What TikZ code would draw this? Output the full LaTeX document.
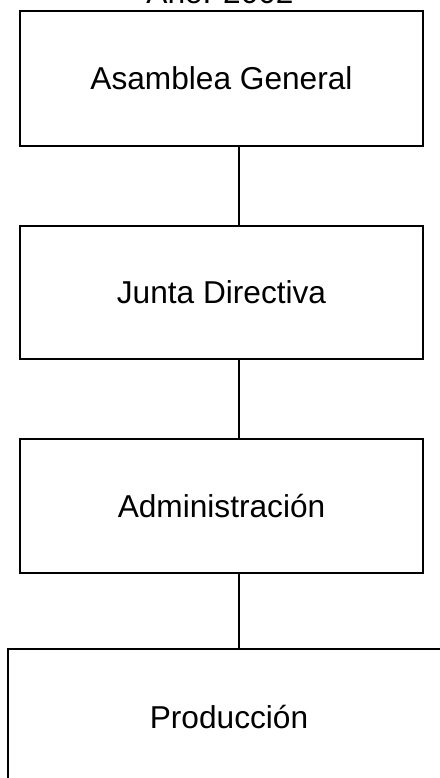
\documentclass[tikz,border=0pt]{standalone}
\usepackage{fontspec}
\setmainfont{Liberation Sans}
\begin{document}
\begin{tikzpicture}[x=0.025cm,y=-0.025cm,line width=1.4pt,
    caja/.style={draw,rectangle,minimum width=10.075cm,font=\fontsize{22.5}{27}\selectfont}]
      \useasboundingbox (0,0) rectangle (440,778);
      \draw
        (220,3) node[anchor=base,font=\fontsize{22.5}{27}\selectfont] (anio){Año: 2002}
        (221.5,78.5) node[caja,minimum height=3.375cm] (asamblea){Asamblea General}
        (221.5,292.5) node[caja,minimum height=3.325cm] (junta){Junta Directiva}
        (221.5,506) node[caja,minimum height=3.35cm] (admin){Administración}
        (229,717) node[caja,minimum width=11.05cm,minimum height=3.4cm] (produccion){Producción};
      \coordinate (eje) at (239,0);
      \begin{scope}[-]
        \draw (asamblea.south -| eje) to (junta.north -| eje);
        \draw (junta.south -| eje) to (admin.north -| eje);
        \draw (admin.south -| eje) to (produccion.north -| eje);
      \end{scope}
    \end{tikzpicture}
\end{document}
